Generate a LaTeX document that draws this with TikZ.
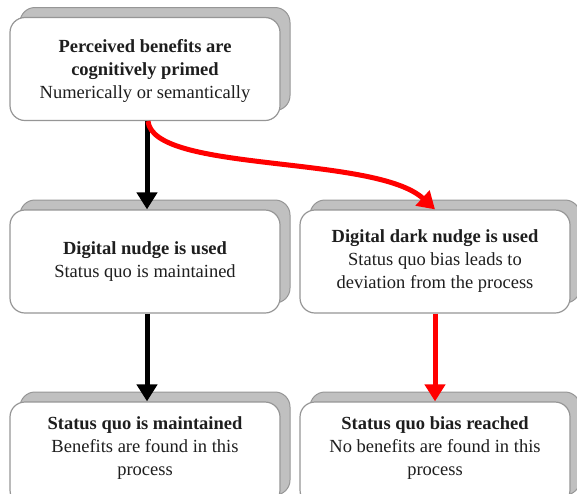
\documentclass[tikz,border=0pt]{standalone}
\usepackage{fontspec}
\setmainfont{Liberation Serif}
\usetikzlibrary{shadows,arrows.meta}
\definecolor{shade}{RGB}{192,192,192}
\definecolor{edge}{RGB}{150,150,150}
\definecolor{ink}{RGB}{30,30,30}
\tikzset{
  frame/.style={draw=edge, line width=1.2pt, fill=white, rounded corners=15pt,
    minimum width=270pt, minimum height=103pt, inner sep=0pt,
    copy shadow={shadow xshift=10pt, shadow yshift=10pt, fill=shade, draw=edge, line width=1pt}},
  txt/.style={align=center, text=ink, font=\fontsize{18.5}{23}\selectfont, inner sep=0pt},
  blackarrow/.style={line width=5pt, black, -{Triangle[length=17pt,width=20pt]}},
  redarrow/.style={line width=5pt, red, -{Triangle[length=17pt,width=20pt]}}
}
\begin{document}
\begin{tikzpicture}[x=1pt,y=-1pt]
\useasboundingbox (0,0) rectangle (577,493);
\node[frame] (b1) at (145,69) {};
\node[frame] (b2) at (145,261.5) {};
\node[frame] (b3) at (435,261.5) {};
\node[frame] (b4) at (145,453.5) {};
\node[frame] (b5) at (435,453.5) {};
\node[txt] (t1) at ([yshift=-2pt]b1.center) {\textbf{Perceived benefits are}\\\textbf{cognitively primed}\\Numerically or semantically};
\node[txt] (t2) at (b2) {\textbf{Digital nudge is used}\\Status quo is maintained};
\node[txt] (t3) at (b3) {\textbf{Digital dark nudge is used}\\Status quo bias leads to\\deviation from the process};
\node[txt] (t4) at ([yshift=5pt]b4.center) {\textbf{Status quo is maintained}\\Benefits are found in this\\process};
\node[txt] (t5) at ([yshift=5pt]b5.center) {\textbf{Status quo bias reached}\\No benefits are found in this\\process};
\draw[blackarrow] ([xshift=2pt]b1.south) -- ([xshift=2pt]b2.north);
\draw[redarrow] ([xshift=3pt]b1.south) .. controls +(5,52) and +(-60,-55) .. (b3.north);
\draw[blackarrow] ([xshift=2pt]b2.south) -- ([xshift=2pt]b4.north);
\draw[redarrow] (b3.south) -- (b5.north);
\end{tikzpicture}
\end{document}
